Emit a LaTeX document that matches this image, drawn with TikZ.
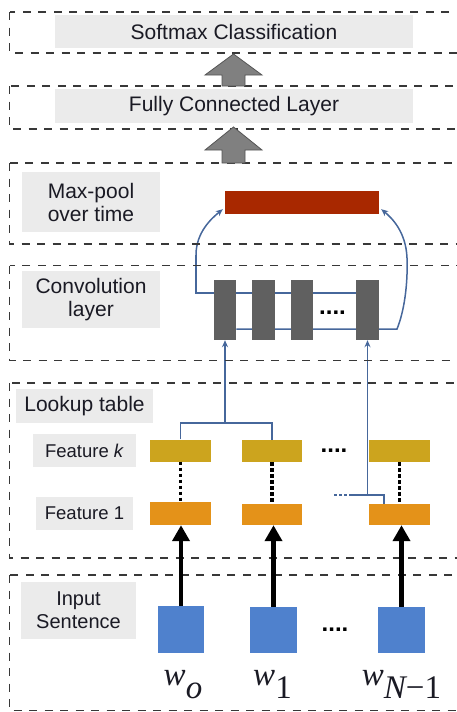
\documentclass[tikz,border=0pt]{standalone}
\usepackage{fontspec}
\newfontfamily\lsans{Liberation Sans}
\newfontfamily\lserif{Liberation Serif}
\usetikzlibrary{arrows.meta,backgrounds}
\definecolor{lblgray}{HTML}{EBEBEB}
\definecolor{redbar}{HTML}{A82800}
\definecolor{convgray}{HTML}{606060}
\definecolor{featk}{HTML}{CCA41E}
\definecolor{feat1}{HTML}{E49219}
\definecolor{wordblue}{HTML}{4F81CD}
\definecolor{linkblue}{HTML}{46679B}
\definecolor{boxline}{HTML}{383838}
\definecolor{arrgray}{HTML}{808080}
\definecolor{arredge}{HTML}{555555}
\definecolor{txt}{HTML}{1A1A24}
\tikzset{
  layerbox/.style={draw=boxline, line width=1.9pt, dash pattern=on 8pt off 7.5pt},
  lbl/.style={fill=lblgray, inner sep=0pt, align=center, text=txt,
    font=\lsans\fontsize{21}{23}\selectfont},
  smalllbl/.style={lbl, font=\lsans\fontsize{18.5}{21}\selectfont},
  inlbl/.style={lbl, font=\lsans\fontsize{20}{23}\selectfont},
  solid block/.style={inner sep=0pt, draw=none},
  dots/.style={inner sep=0pt, anchor=base, font=\lsans\bfseries\fontsize{24}{24}\selectfont},
  wlbl/.style={inner sep=0pt, anchor=base, text=txt,
    font=\lserif\itshape\fontsize{33}{36}\selectfont},
  bl/.style={draw=linkblue, line width=1.5pt},
  blarr/.style={bl, -{Stealth[length=7pt,width=6pt]}},
  bldot/.style={draw=linkblue, line width=2.2pt, dash pattern=on 2.5pt off 2.5pt},
  blkdot/.style={draw=black, line width=3.2pt, dash pattern=on 3.5pt off 2.5pt},
  blkarr/.style={draw=black, line width=4.5pt, -{Triangle[length=16pt,width=17pt]}},
  blockarr/.style={fill=arrgray, draw=arredge, line width=0.8pt}
}
\begin{document}
\begin{tikzpicture}[x=1pt,y=-1pt]
\useasboundingbox (0,0) rectangle (457,712);
\clip (0,0) rectangle (457,712);

% dashed layer frames
\path[layerbox] (9.5,12) rectangle (475,53);
\path[layerbox] (9.5,86) rectangle (475,129);
\path[layerbox] (9.5,163) rectangle (475,244);
\path[layerbox] (9.5,265.5) rectangle (475,360.5);
\path[layerbox] (9.5,383) rectangle (475,558);
\path[layerbox] (9.5,575) rectangle (475,710.5);

% gray block arrows
\filldraw[blockarr] (233.5,54) -- (262,75) -- (245,75) -- (245,86) -- (222,86) -- (222,75) -- (205,75) -- cycle;
\filldraw[blockarr] (233.5,127) -- (262,150) -- (245,150) -- (245,163) -- (222,163) -- (222,150) -- (205,150) -- cycle;

% labels
\node[lbl, minimum width=358pt, minimum height=33pt] (sm) at (234,31.5) {Softmax Classification};
\node[lbl, minimum width=358pt, minimum height=34pt] (fc) at (234,106) {Fully Connected Layer};
\node[lbl, minimum width=138pt, minimum height=60pt] (mp) at (91,202) {Max-pool\\over time};
\node[lbl, minimum width=138pt, minimum height=57pt] (cv) at (91,299.5) {Convolution\\layer};
\node[lbl, minimum width=137pt, minimum height=34pt] (lt) at (84.5,406) {Lookup table};
\node[smalllbl, minimum width=103pt, minimum height=33pt] (fk) at (84.5,450.5) {Feature \textit{k}};
\node[smalllbl, minimum width=97pt, minimum height=33pt] (f1) at (84.5,513.5) {Feature 1};
\node[inlbl, minimum width=115pt, minimum height=57pt] (is) at (78.5,610.5) {Input\\Sentence};

% max pool bar
\node[solid block, fill=redbar, minimum width=154pt, minimum height=23pt] (mx) at (302,202.5) {};

% convolution blocks
\node[solid block, fill=convgray, minimum width=22.5pt, minimum height=60pt] (c1) at (225,310) {};
\node[solid block, fill=convgray, minimum width=22.5pt, minimum height=60pt] (c2) at (263.5,310) {};
\node[solid block, fill=convgray, minimum width=22.5pt, minimum height=60pt] (c3) at (302,310) {};
\node[solid block, fill=convgray, minimum width=22.5pt, minimum height=60pt] (c4) at (367.5,310) {};
\node[dots] (cd) at (332.5,314) {....};

% feature k blocks
\node[solid block, fill=featk, minimum width=61pt, minimum height=22pt] (k1) at (180.5,450.5) {};
\node[solid block, fill=featk, minimum width=60pt, minimum height=22pt] (k2) at (272,451) {};
\node[solid block, fill=featk, minimum width=61pt, minimum height=22pt] (k3) at (399.5,451) {};
\node[dots] (kd) at (334,452.5) {....};

% feature 1 blocks
\node[solid block, fill=feat1, minimum width=61pt, minimum height=23pt] (o1) at (180.5,513.5) {};
\node[solid block, fill=feat1, minimum width=60pt, minimum height=21pt] (o2) at (272,514.5) {};
\node[solid block, fill=feat1, minimum width=61pt, minimum height=21pt] (o3) at (399.5,514.5) {};

% word blocks
\node[solid block, fill=wordblue, minimum width=46pt, minimum height=47pt] (s1) at (181,629.5) {};
\node[solid block, fill=wordblue, minimum width=47pt, minimum height=46pt] (s2) at (273.5,630) {};
\node[solid block, fill=wordblue, minimum width=47pt, minimum height=46pt] (s3) at (401.5,630) {};
\node[dots] (sd) at (335,631) {....};

% word labels
\node[wlbl] (w0) at (183,685) {w\raisebox{-13pt}{o}};
\node[wlbl] (w1) at (272.5,685) {w\raisebox{-13pt}{\upshape 1}};
\node[wlbl] (wn) at (401.5,685) {w\raisebox{-13pt}{N\upshape −1}};

% coordinates for connectors
\coordinate (tl) at (196,293);
\coordinate (br) at (397,329);
\coordinate (ml) at ([xshift=-2pt,yshift=5pt]mx.south west);
\coordinate (mr) at ([xshift=2pt,yshift=5pt]mx.south east);
\coordinate (tj) at (225,423);
\coordinate (rj) at (367.5,495);
\coordinate (rk) at (384,495);
\coordinate (rd) at (350,495);
\coordinate (re) at (334,495);

\begin{scope}[on background layer]
  \draw[bl] (c4.west |- tl) -- (tl) -- (196,255);
  \draw[blarr] (196,255) .. controls (196,232) and (212,218) .. (ml);
  \draw[bl] (c1.east |- br) -- (br) .. controls (404,312) and (408,285) .. (407,258);
  \draw[blarr] (407,258) .. controls (406,232) and (392,218) .. (mr);
  \draw[bl] (k1.north) -- (k1.north |- tj) -- (k2.north |- tj) -- (k2.north);
  \draw[blarr] (tj) -- (c1.south);
  \draw[blarr] (rj) -- (c4.south);
  \draw[bl] (rd) -- (rk) -- (rk |- o3.north);
  \draw[bldot] (re) -- (rd);
\end{scope}

% dotted links between feature rows
\draw[blkdot] (k1.south) -- (o1.north);
\draw[blkdot] (k2.south) -- (o2.north);
\draw[blkdot] (k3.south) -- (o3.north);

% word to feature arrows
\draw[blkarr] (s1.north) -- (s1.north |- o1.south);
\draw[blkarr] (s2.north) -- (s2.north |- o2.south);
\draw[blkarr] (s3.north) -- (s3.north |- o3.south);
\end{tikzpicture}
\end{document}
